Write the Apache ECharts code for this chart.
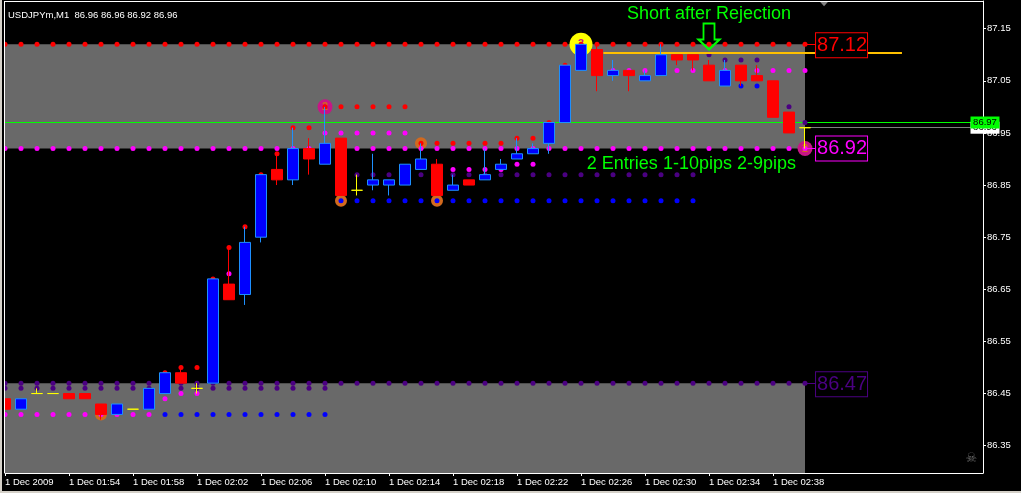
<!DOCTYPE html>
<html><head><meta charset="utf-8">
<style>html,body{margin:0;padding:0;background:#000;overflow:hidden}#c{width:1021px;height:493px}</style>
<script src="https://cdn.jsdelivr.net/npm/echarts@6/dist/echarts.min.js"></script>
</head><body><div id="c"></div>
<script>
const barIndex=[0,1,2,3,4,5,6,7,8,9,10,11,12,13,14,15,16,17,18,19,20,21,22,23,24,25,26,27,28,29,30,31,32,33,34,35,36,37,38,39,40,41,42,43,44,45,46,47,48,49,50];
const open =[86.44,86.42,86.45,86.45,86.45,86.45,86.43,86.41,86.42,86.42,86.45,86.49,86.46,86.47,86.66,86.64,86.75,86.88,86.86,86.92,86.89,86.94,86.84,86.85,86.85,86.85,86.88,86.89,86.84,86.86,86.86,86.88,86.90,86.91,86.93,86.97,87.07,87.11,87.06,87.07,87.05,87.06,87.10,87.10,87.08,87.04,87.08,87.06,87.05,86.99,86.96];
const close=[86.42,86.44,86.45,86.45,86.44,86.44,86.41,86.43,86.42,86.46,86.49,86.47,86.46,86.67,86.63,86.74,86.87,86.86,86.92,86.90,86.93,86.83,86.84,86.86,86.86,86.89,86.90,86.83,86.85,86.85,86.87,86.89,86.91,86.92,86.97,87.08,87.12,87.06,87.07,87.06,87.06,87.10,87.09,87.09,87.05,87.07,87.05,87.05,86.98,86.95,86.96];
const low  =[86.42,86.42,86.45,86.45,86.44,86.44,86.40,86.41,86.42,86.42,86.45,86.47,86.45,86.47,86.63,86.62,86.74,86.85,86.85,86.87,86.89,86.83,86.83,86.84,86.83,86.85,86.88,86.83,86.84,86.85,86.86,86.88,86.90,86.91,86.91,86.97,87.07,87.03,87.05,87.03,87.05,87.06,87.08,87.07,87.05,87.04,87.04,87.05,86.98,86.95,86.92];
const high =[86.46,86.44,86.46,86.45,86.45,86.45,86.43,86.43,86.42,86.46,86.49,86.50,86.47,86.67,86.73,86.77,86.87,86.91,86.96,86.94,87.00,86.94,86.87,86.91,86.86,86.89,86.93,86.90,86.87,86.86,86.92,86.90,86.94,86.93,86.97,87.08,87.12,87.12,87.09,87.07,87.07,87.12,87.10,87.10,87.09,87.09,87.08,87.08,87.05,86.99,86.96];

const timeLabels=['1 Dec 2009','1 Dec 01:54','1 Dec 01:58','1 Dec 02:02','1 Dec 02:06','1 Dec 02:10','1 Dec 02:14','1 Dec 02:18','1 Dec 02:22','1 Dec 02:26','1 Dec 02:30','1 Dec 02:34','1 Dec 02:38'];
const timeTicks=[0,4,8,12,16,20,24,28,32,36,40,44,48];
const priceTicks=[86.35,86.45,86.55,86.65,86.75,86.85,86.95,87.05,87.15];

const redLevel=87.12, magentaLevel=86.92, purpleLevel=86.47;
const redSteps=[[10,86.49],[11,86.50],[12,86.50],[13,86.67],[14,86.73],[15,86.77],[16,86.87],[17,86.91],[18,86.96],[19,86.96],[20,87.00],[21,87.00],[22,87.00],[23,87.00],[24,87.00],[25,87.00],[26,86.93],[27,86.93],[28,86.93],[29,86.93],[30,86.93],[31,86.93],[32,86.94],[33,86.94],[34,86.97],[35,87.08]];
const magentaSteps=[[0,86.41],[1,86.41],[2,86.41],[3,86.41],[4,86.41],[5,86.41],[6,86.41],[7,86.41],[8,86.41],[9,86.41],[10,86.44],[11,86.45],[12,86.45],[14,86.68],[20,86.95],[21,86.95],[22,86.95],[23,86.95],[24,86.95],[25,86.95],[28,86.88],[29,86.88],[30,86.88],[31,86.88],[32,86.89],[33,86.89],[38,87.07],[39,87.07],[40,87.07],[41,87.07],[42,87.07],[43,87.07],[44,87.07],[45,87.07],[46,87.07],[47,87.07],[48,87.07],[49,87.07],[50,87.07]];
const purpleSteps=[[0,86.46],[1,86.46],[2,86.46],[3,86.46],[4,86.46],[5,86.46],[6,86.46],[7,86.46],[8,86.46],[9,86.46],[10,86.46],[11,86.46],[12,86.46],[13,86.46],[14,86.46],[15,86.46],[16,86.46],[17,86.46],[18,86.46],[19,86.46],[20,86.46],[21,86.87],[22,86.87],[23,86.87],[24,86.87],[25,86.87],[26,86.87],[27,86.87],[28,86.87],[29,86.87],[30,86.87],[31,86.87],[32,86.87],[33,86.87],[34,86.87],[35,86.87],[36,86.87],[37,86.87],[38,86.87],[39,86.87],[40,86.87],[41,86.87],[42,86.87],[43,86.87],[44,87.10],[45,87.09],[46,87.09],[47,87.09],[49,87.00],[50,86.97]];
const blueSteps=[[10,86.41],[11,86.41],[12,86.41],[13,86.41],[14,86.41],[15,86.41],[16,86.41],[17,86.41],[18,86.41],[19,86.41],[20,86.41],[21,86.82],[22,86.82],[23,86.82],[24,86.82],[25,86.82],[26,86.82],[27,86.82],[28,86.82],[29,86.82],[30,86.82],[31,86.82],[32,86.82],[33,86.82],[34,86.82],[35,86.82],[36,86.82],[37,86.82],[38,86.82],[39,86.82],[40,86.82],[41,86.82],[42,86.82],[43,86.82],[46,87.04],[47,87.04]];
const orangeMarks=[[6,86.41],[21,86.82],[26,86.93],[27,86.82]];
const pinkMarks=[[20,87.00],[50,86.92]];
const yellowMarks=[[36,87.12]];
const bid=86.97, ask=86.96, entry=87.103;

const xMin=0,xMax=61.125,yMin=86.2976,yMax=87.2031;
const FONT='"Liberation Sans",Arial,sans-serif';
const dots=(name,data,color)=>({type:'scatter',name,data,symbol:'circle',symbolSize:5,itemStyle:{color,opacity:1},z:4,silent:true});
const hline=(y,from,to,color,width)=>[{coord:[from,y],lineStyle:{color,width,type:'solid',opacity:1}},{coord:[to,y]}];
const boxed=(x,y,text,color)=>({value:[x,y],label:{show:true,position:'right',distance:0,formatter:text,color,borderColor:color,borderWidth:1,backgroundColor:'#000',fontFamily:FONT,fontSize:20,width:50,height:24,lineHeight:25,align:'left',verticalAlign:'middle',padding:[0,0,0,1]}});
const note=(x,y,text)=>({value:[x,y],label:{show:true,position:'inside',formatter:text,color:'#00FF00',fontFamily:FONT,fontSize:18}});

const chart=echarts.init(document.getElementById('c'),null,{renderer:'canvas'});
chart.setOption({
  animation:false,backgroundColor:'#000',
  title:{text:'USDJPYm,M1  86.96 86.96 86.92 86.96',left:3,top:5,textStyle:{color:'#fff',fontSize:9.5,fontWeight:'normal',fontFamily:FONT}},
  grid:{left:5,right:38,top:1,bottom:20,show:false},
  xAxis:{type:'value',min:xMin,max:xMax,splitLine:{show:false},
    axisLine:{show:true,onZero:false,lineStyle:{color:'#fff'}},
    axisTick:{show:true,length:3,lineStyle:{color:'#fff'},customValues:timeTicks},
    axisLabel:{color:'#fff',fontFamily:FONT,fontSize:9.5,align:'left',margin:4,customValues:timeTicks,formatter:v=>timeLabels[timeTicks.indexOf(v)]}},
  yAxis:{type:'value',position:'right',min:yMin,max:yMax,scale:true,splitLine:{show:false},
    axisLine:{show:true,onZero:false,lineStyle:{color:'#fff'}},
    axisTick:{show:true,length:3,lineStyle:{color:'#fff'},customValues:priceTicks},
    axisLabel:{color:'#fff',fontFamily:FONT,fontSize:9.5,margin:4,customValues:priceTicks,formatter:v=>v.toFixed(2)}},
  series:[
    {type:'scatter',name:'zones',data:[],z:1,silent:true,
      markArea:{silent:true,itemStyle:{color:'#696969',opacity:1},data:[
        [{coord:[xMin,redLevel]},{coord:[50,magentaLevel]}],
        [{coord:[xMin,purpleLevel]},{coord:[50,yMin]}]]},
      markLine:{silent:true,symbol:'none',label:{show:false},animation:false,data:[
        hline(ask,50,xMax,'#808080',1),
        hline(entry,37.4,56.06,'#FFC000',2),
        hline(redLevel,50,50.75,'#FF0000',1),
        hline(magentaLevel,50,50.75,'#FF00FF',1),
        hline(purpleLevel,50,50.75,'#4B0082',1)]}},
    {type:'line',name:'bid',z:2,silent:true,showSymbol:false,symbol:'none',data:[[xMin,bid],[xMax,bid]],lineStyle:{color:'#00FF00',width:1,opacity:1}},
    {type:'scatter',name:'yellow',data:yellowMarks,symbol:'circle',symbolSize:23,itemStyle:{color:'#FFFF00',opacity:1},z:3,silent:true,
      label:{show:true,position:'inside',formatter:'3',color:'#C71585',fontSize:11,fontWeight:'bold',fontFamily:FONT}},
    {type:'scatter',name:'pink',data:pinkMarks,symbol:'circle',symbolSize:15,itemStyle:{color:'#C71585',opacity:1},z:3,silent:true,
      label:{show:true,position:'inside',formatter:'2',color:'#D2691E',fontSize:11,fontWeight:'bold',fontFamily:FONT}},
    {type:'scatter',name:'orange',data:orangeMarks,symbol:'circle',symbolSize:12,itemStyle:{color:'#D2691E',opacity:1},z:3,silent:true},
    dots('red',barIndex.map(n=>[n,redLevel]),'#FF0000'),
    dots('magenta',barIndex.map(n=>[n,magentaLevel]),'#FF00FF'),
    dots('purple',barIndex.map(n=>[n,purpleLevel]),'#4B0082'),
    dots('purple2',purpleSteps,'#4B0082'),
    dots('blue',blueSteps,'#0000FF'),
    dots('red2',redSteps,'#FF0000'),
    dots('magenta2',magentaSteps,'#FF00FF'),
    {type:'candlestick',name:'USDJPYm',barWidth:11,z:5,silent:true,
      data:barIndex.map((n,i)=>[n,open[i],close[i],low[i],high[i]]),
      itemStyle:{color:'#0000FF',color0:'#FF0000',borderColor:'#1E90FF',borderColor0:'#FF0000',borderColorDoji:'#FFFF00',borderWidth:1,opacity:1}},
    {type:'scatter',name:'boxes',symbolSize:0,z:6,silent:true,clip:false,itemStyle:{opacity:1},
      data:[boxed(50.69,redLevel-0.002,'87.12','#FF0000'),boxed(50.69,magentaLevel,'86.92','#FF00FF'),boxed(50.69,purpleLevel-0.002,'86.47','#4B0082')]},
    {type:'scatter',name:'notes',symbolSize:0,z:6,silent:true,clip:false,itemStyle:{opacity:1},
      data:[note(44,87.178,'Short after Rejection'),note(42.9,86.891,'2 Entries 1-10pips 2-9pips')]},
    {type:'scatter',name:'arrow',z:6,silent:true,data:[[44,87.135]],symbol:'path://M5,0 L16,0 L16,16 L21,16 L10.5,26 L0,16 L5,16 Z',symbolSize:[21,26],
      itemStyle:{color:'transparent',borderColor:'#00FF00',borderWidth:2,opacity:1}},
    {type:'scatter',name:'shift',z:6,silent:true,clip:false,data:[[51.19,87.198]],symbol:'triangle',symbolRotate:180,symbolSize:[9,5],itemStyle:{color:'#808080',opacity:1}},
    {type:'scatter',name:'skull',symbolSize:0,z:6,silent:true,itemStyle:{opacity:1},data:[[60.4,86.325]],
      label:{show:true,position:'inside',formatter:'\u2620',color:'#696969',fontSize:13,fontFamily:'"DejaVu Sans"'}},
    {type:'scatter',name:'askTag',symbolSize:0,z:7,silent:true,clip:false,itemStyle:{opacity:1},data:[[xMax,ask]],
      label:{show:true,position:'right',distance:2,formatter:'86.96',color:'#000',backgroundColor:'#fff',fontFamily:FONT,fontSize:9.5,width:29,height:12,lineHeight:12,align:'center',padding:0}},
    {type:'scatter',name:'bidTag',symbolSize:0,z:8,silent:true,clip:false,itemStyle:{opacity:1},data:[[xMax,bid]],
      label:{show:true,position:'right',distance:2,formatter:'86.97',color:'#000',backgroundColor:'#00FF00',fontFamily:FONT,fontSize:9.5,width:29,height:12,lineHeight:12,align:'center',padding:0}}
  ],
  graphic:[
    {type:'rect',silent:true,z:100,shape:{x:2,y:0,width:2,height:491},style:{fill:'#000'}},
    {type:'rect',silent:true,z:101,shape:{x:4,y:1,width:1,height:472},style:{fill:'#fff'}},
    {type:'rect',silent:true,z:101,shape:{x:4,y:1,width:979,height:1},style:{fill:'#fff'}},
    {type:'rect',silent:true,z:100,shape:{x:0,y:0,width:2,height:493},style:{fill:'#D4D0C8'}},
    {type:'rect',silent:true,z:100,shape:{x:0,y:491,width:1021,height:2},style:{fill:'#D4D0C8'}}
  ]
});
</script></body></html>
